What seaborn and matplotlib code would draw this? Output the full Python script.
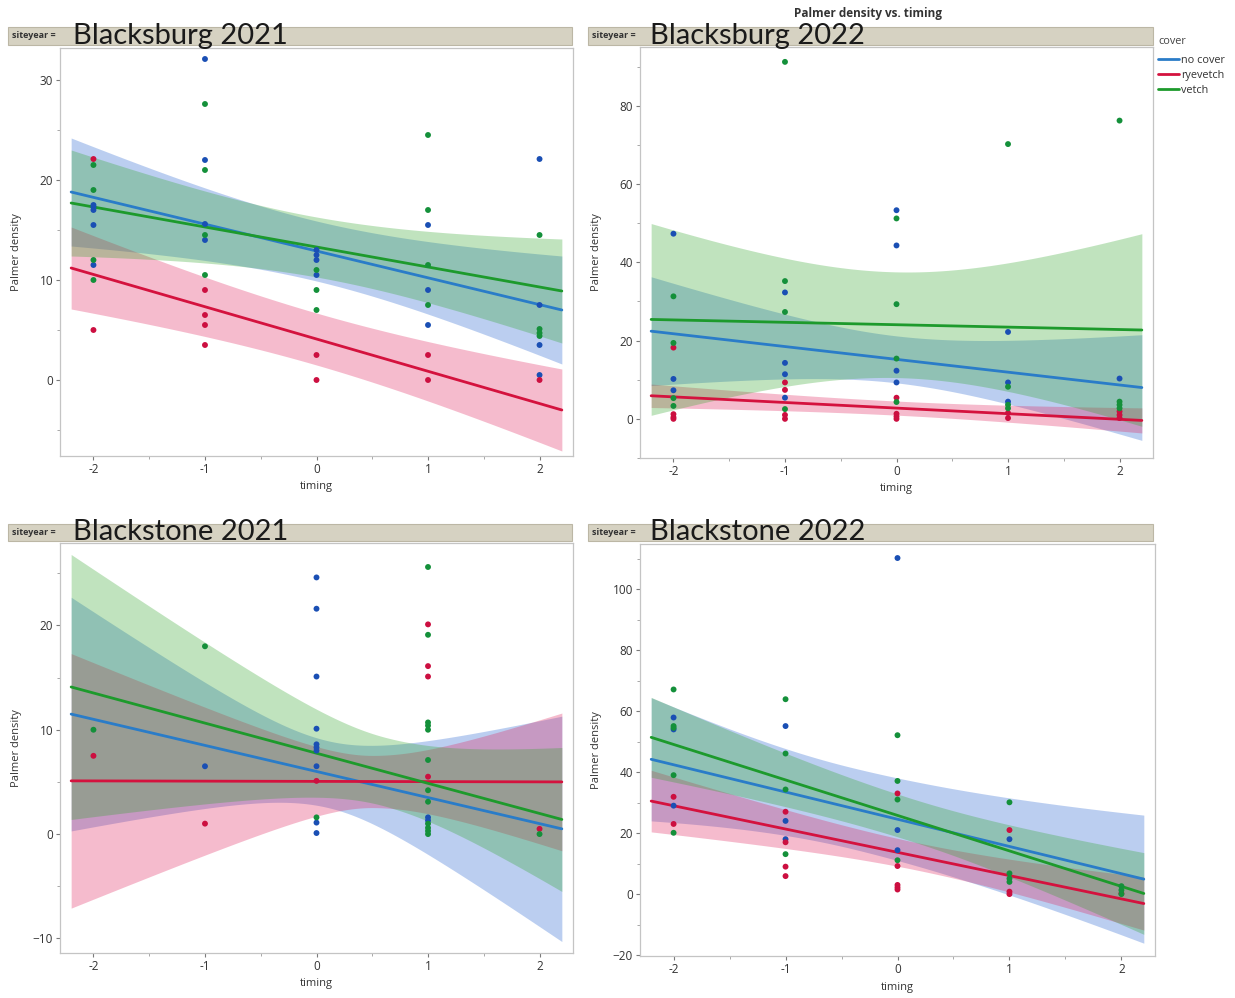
import numpy as np
import pandas as pd
import matplotlib
matplotlib.use("Agg")
import matplotlib.pyplot as plt
from matplotlib.patches import Rectangle
from matplotlib.ticker import MultipleLocator
import seaborn as sns

COVERS = ["no cover", "ryevetch", "vetch"]
TIMING_TICKS = [-2, -1, 0, 1, 2]
FIT_RANGE = (-2.2, 2.2)

# ---- observed Palmer density, keyed by timing ----
BB21_NO_COVER = {-2: [17.5, 17.3, 17.0, 15.5, 11.5], -1: [32.1, 22.0, 15.6, 14.0],
                 0: [13.0, 12.5, 12.0, 10.5], 1: [15.5, 9.0, 5.5], 2: [22.1, 7.5, 3.5, 0.5]}
BB21_RYEVETCH = {-2: [22.1, 5.0], -1: [9.0, 6.5, 5.5, 3.5], 0: [2.5, 0.0], 1: [2.5, 0.0], 2: [0.0]}
BB21_VETCH = {-2: [21.5, 19.0, 12.0, 10.0], -1: [27.6, 21.0, 14.5, 10.5], 0: [11.0, 9.0, 7.0],
              1: [24.5, 17.0, 11.5, 7.5], 2: [14.5, 5.1, 4.7, 4.4]}

BB22_NO_COVER = {-2: [47.3, 10.2, 7.3], -1: [32.3, 14.3, 11.4, 5.4], 0: [53.3, 44.3, 12.3, 9.3],
                 1: [22.2, 9.3, 4.4], 2: [10.3]}
BB22_RYEVETCH = {-2: [18.2, 1.2, 0.4, 0.0], -1: [9.3, 7.4, 1.0, 0.0], 0: [5.4, 1.3, 0.6, 0.0],
                 1: [1.5, 0.2], 2: [1.9, 1.0, 0.2]}
BB22_VETCH = {-2: [31.3, 19.4, 5.3, 3.3], -1: [91.2, 35.2, 27.3, 2.5], 0: [51.2, 29.3, 15.4, 4.3],
              1: [70.2, 8.2, 3.6, 2.7], 2: [76.2, 4.4, 3.6, 2.7]}

BS21_NO_COVER = {-1: [6.5], 0: [24.6, 21.6, 15.1, 10.1, 8.6, 8.3, 8.0, 6.5, 1.1, 0.1], 1: [1.6, 1.3]}
BS21_RYEVETCH = {-2: [7.5], -1: [1.0], 0: [5.1], 1: [20.1, 16.1, 15.1, 5.5], 2: [0.5]}
BS21_VETCH = {-2: [10.0], -1: [18.0], 0: [1.6],
              1: [25.6, 19.1, 10.7, 10.4, 10.0, 7.1, 4.2, 3.1, 1.0, 0.6, 0.3, 0.0], 2: [0.0]}

BS22_NO_COVER = {-2: [57.9, 54.0, 29.0], -1: [55.1, 24.0, 18.0], 0: [110.2, 21.0, 14.4], 1: [18.0]}
BS22_RYEVETCH = {-2: [31.9, 23.0], -1: [27.0, 17.0, 9.0, 5.9], 0: [33.0, 9.2, 3.0, 2.2, 1.5],
                 1: [21.0, 0.8, 0.0], 2: [0.2]}
BS22_VETCH = {-2: [67.1, 55.1, 54.5, 39.0, 20.1], -1: [63.9, 46.1, 34.3, 13.1],
              0: [52.1, 37.1, 31.0, 11.1], 1: [30.1, 6.8, 5.1, 4.0], 2: [2.6, 1.3, 0.0]}

# ---- fitted lines: value at timing -2.2 and +2.2, in COVERS order ----
BB21_FIT_LEFT, BB21_FIT_RIGHT = [18.8, 11.2, 17.7], [7.0, -3.0, 8.9]
BB22_FIT_LEFT, BB22_FIT_RIGHT = [22.4, 5.9, 25.4], [8.0, -0.4, 22.7]
BS21_FIT_LEFT, BS21_FIT_RIGHT = [11.5, 5.1, 14.1], [0.5, 5.0, 1.4]
BS22_FIT_LEFT, BS22_FIT_RIGHT = [44.2, 30.5, 51.4], [4.9, -3.1, 0.2]

# ---- confidence band half-width: (left end, narrowest, timing of narrowest, right end) ----
BB21_BAND = [(5.4, 3.0, 0.0, 5.4), (4.1, 2.6, 0.0, 4.1), (5.3, 3.0, 0.0, 5.2)]
BB22_BAND = [(13.9, 6.0, 0.0, 13.5), (3.0, 1.8, 0.0, 3.2), (24.5, 13.5, 0.0, 24.6)]
BS21_BAND = [(11.2, 3.2, 0.1, 10.8), (12.2, 2.5, 0.5, 6.6), (12.7, 3.3, 0.6, 6.9)]
BS22_BAND = [(20.2, 13.3, -0.4, 21.0), (10.1, 4.5, 0.2, 8.7), (13.1, 7.0, 0.1, 13.4)]

SITEYEARS = ["Blacksburg 2021", "Blacksburg 2022", "Blackstone 2021", "Blackstone 2022"]

LINE_COLORS = {"no cover": "#2a7cc8", "ryevetch": "#d4123e", "vetch": "#1d9a2c"}
POINT_COLORS = {"no cover": "#1a4fb4", "ryevetch": "#cc0f40", "vetch": "#14903a"}
# strong hues at low opacity so overlapping bands darken like the JMP shading
BAND_COLORS = {"no cover": "#1f5fd0", "ryevetch": "#e0205a", "vetch": "#2fa52a"}
BAND_ALPHA = 0.3

BODY_FONT = ["Open Sans", "DejaVu Sans"]
sns.set_theme(style="white")
plt.rcParams["font.family"] = BODY_FONT


def points_frame(groups):
    rows = []
    for cover, by_timing in zip(COVERS, groups):
        for t, vals in by_timing.items():
            for v in vals:
                rows.append({"timing": t, "density": v, "cover": cover})
    return pd.DataFrame(rows)


def fit_frame(left, right, bands):
    xs = np.linspace(FIT_RANGE[0], FIT_RANGE[1], 120)
    xl, xr = FIT_RANGE
    frames = []
    for cover, a, b, (hl, hmin, x0, hr) in zip(COVERS, left, right, bands):
        yhat = a + (b - a) * (xs - xl) / (xr - xl)
        kl = np.sqrt(max(hl ** 2 - hmin ** 2, 0.0)) / (x0 - xl)
        kr = np.sqrt(max(hr ** 2 - hmin ** 2, 0.0)) / (xr - x0)
        k = np.where(xs < x0, kl, kr)
        half = np.sqrt(hmin ** 2 + (k * (xs - x0)) ** 2)
        frames.append(pd.DataFrame({"timing": xs, "density": yhat,
                                    "lo": yhat - half, "hi": yhat + half, "cover": cover}))
    return pd.concat(frames, ignore_index=True)


panels = [
    dict(points=(BB21_NO_COVER, BB21_RYEVETCH, BB21_VETCH), left=BB21_FIT_LEFT, right=BB21_FIT_RIGHT,
         band=BB21_BAND, ylim=(-7.6, 33.2), yticks=[0, 10, 20, 30], yminor=5,
         rect=(60, 48, 573, 456)),
    dict(points=(BB22_NO_COVER, BB22_RYEVETCH, BB22_VETCH), left=BB22_FIT_LEFT, right=BB22_FIT_RIGHT,
         band=BB22_BAND, ylim=(-10.0, 95.0), yticks=[0, 20, 40, 60, 80], yminor=10,
         rect=(640, 47, 1153, 458)),
    dict(points=(BS21_NO_COVER, BS21_RYEVETCH, BS21_VETCH), left=BS21_FIT_LEFT, right=BS21_FIT_RIGHT,
         band=BS21_BAND, ylim=(-11.4, 27.9), yticks=[-10, 0, 10, 20], yminor=5,
         rect=(60, 543, 573, 953)),
    dict(points=(BS22_NO_COVER, BS22_RYEVETCH, BS22_VETCH), left=BS22_FIT_LEFT, right=BS22_FIT_RIGHT,
         band=BS22_BAND, ylim=(-20.3, 114.8), yticks=[-20, 0, 20, 40, 60, 80, 100], yminor=10,
         rect=(640, 544, 1155, 956)),
]

W, H = 1235, 998
fig = plt.figure(figsize=(W / 100, H / 100), dpi=100)
fig.patch.set_facecolor("white")

headers = [(8, 27, 572, 45), (588, 27, 1153, 45), (8, 524, 572, 541), (588, 524, 1153, 541)]
label_x = [73, 650, 73, 650]

for i, (p, name) in enumerate(zip(panels, SITEYEARS)):
    x0, y0, x1, y1 = p["rect"]
    ax = fig.add_axes([x0 / W, 1 - y1 / H, (x1 - x0) / W, (y1 - y0) / H])
    ax.set_facecolor("white")

    fit = fit_frame(p["left"], p["right"], p["band"])
    for cover in COVERS:
        sub = fit[fit["cover"] == cover]
        ax.fill_between(sub["timing"], sub["lo"], sub["hi"], color=BAND_COLORS[cover],
                        alpha=BAND_ALPHA, linewidth=0, zorder=1)

    sns.lineplot(data=fit, x="timing", y="density", hue="cover", hue_order=COVERS,
                 palette=LINE_COLORS, linewidth=2.0, ax=ax, legend=(i == 1), zorder=3)

    pts = points_frame(p["points"])
    sns.scatterplot(data=pts, x="timing", y="density", hue="cover", hue_order=COVERS,
                    palette=POINT_COLORS, s=18, linewidth=0, ax=ax, legend=False, zorder=4)

    ax.set_xlim(-2.3, 2.3)
    ax.set_ylim(*p["ylim"])
    ax.set_xticks(TIMING_TICKS)
    ax.set_xticklabels([str(t) for t in TIMING_TICKS])
    ax.set_yticks(p["yticks"])
    ax.xaxis.set_minor_locator(MultipleLocator(0.5))
    ax.yaxis.set_minor_locator(MultipleLocator(p["yminor"]))
    ax.tick_params(axis="both", which="major", direction="out", length=3, width=0.8,
                   color="#7a7a7a", labelsize=8.5, labelcolor="#333333", pad=2,
                   bottom=True, left=True)
    ax.tick_params(axis="both", which="minor", direction="out", length=2, width=0.6,
                   color="#9a9a9a", bottom=True, left=True)
    for s in ax.spines.values():
        s.set_color("#c4c4c4")
        s.set_linewidth(0.9)

    ax.set_xlabel("timing", fontsize=8, color="#333333")
    ax.set_ylabel("Palmer density", fontsize=8, color="#333333")
    ax.xaxis.set_label_coords(0.5, -0.062)
    ax.yaxis.set_label_coords(-0.074, 0.5)

    if i == 1:
        leg = ax.legend(title="cover", loc="upper left", bbox_to_anchor=(0.998, 1.043),
                        frameon=False, fontsize=7.8, title_fontsize=7.8, handlelength=1.9,
                        handletextpad=0.15, labelspacing=0.34, borderaxespad=0.2)
        leg._legend_box.align = "left"
        leg._legend_box.sep = 6
        leg.get_title().set_color("#444444")
        for t in leg.get_texts():
            t.set_color("#333333")

    # facet header strip
    hx0, hy0, hx1, hy1 = headers[i]
    fig.patches.append(Rectangle((hx0 / W, 1 - hy1 / H), (hx1 - hx0) / W, (hy1 - hy0) / H,
                                 transform=fig.transFigure, facecolor="#d6d2c2",
                                 edgecolor="#bcb7a5", linewidth=0.8, zorder=0))
    fig.text((hx0 + 4) / W, 1 - (hy0 + hy1) / 2 / H, "siteyear =", fontsize=6.5,
             fontweight="bold", color="#333333", va="center", ha="left")
    fig.text(label_x[i] / W, 1 - (hy1 - 1) / H, name, fontsize=21, color="#1a1a1a",
             family=["Lato", "DejaVu Sans"], va="baseline", ha="left")

fig.text(868 / W, 1 - 13 / H, "Palmer density vs. timing", fontsize=8.5, fontweight="bold",
         color="#333333", ha="center", va="center")

fig.savefig("out.png", dpi=100, facecolor="white")
